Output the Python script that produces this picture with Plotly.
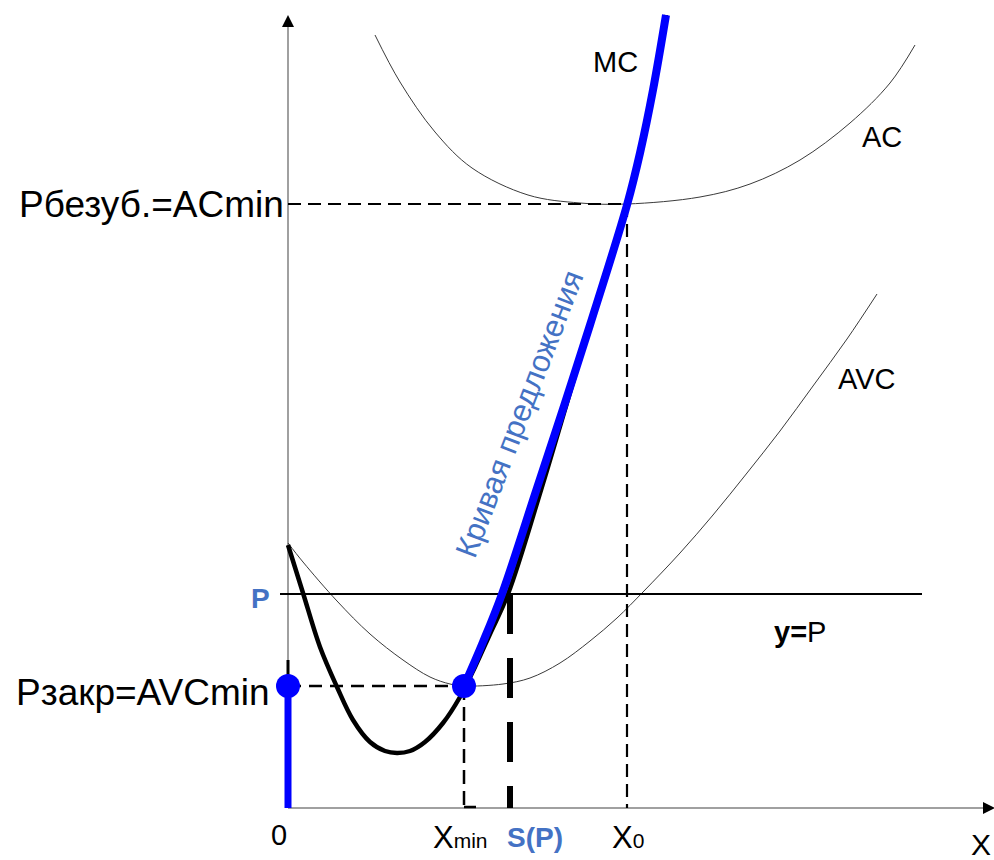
import plotly.graph_objects as go

# ---- key levels (price / quantity) ----
P = 2.14            # market price y=P
P_close = 1.22      # Рзакр = AVCmin
P_break = 6.04      # Рбезуб = ACmin
X_min = 1.76
S_P = 2.22
X0 = 3.39

# ---- curves ----
MC_x = [0.00, 0.15, 0.32, 0.49, 0.65, 0.82, 0.97, 1.09, 1.22, 1.37, 1.55, 1.72, 1.87, 2.02, 2.20, 2.53, 2.78, 3.02, 3.39, 3.52, 3.65, 3.78]
MC_y = [2.63, 2.15, 1.61, 1.21, 0.88, 0.66, 0.57, 0.55, 0.57, 0.66, 0.85, 1.11, 1.41, 1.74, 2.14, 3.18, 4.02, 4.83, 6.03, 6.55, 7.18, 7.93]

SUP_x = [1.76, 1.95, 2.14, 2.49, 2.76, 3.02, 3.39, 3.52, 3.65, 3.78]
SUP_y = [1.22, 1.66, 2.14, 3.20, 4.02, 4.83, 6.03, 6.55, 7.18, 7.93]

AVC_x = [0.00, 0.15, 0.49, 0.82, 1.15, 1.42, 1.62, 1.76, 2.15, 2.42, 2.72, 3.02, 3.29, 3.55, 3.92, 4.25, 4.59, 4.92, 5.25, 5.59, 5.89]
AVC_y = [2.65, 2.46, 2.07, 1.74, 1.48, 1.31, 1.24, 1.22, 1.24, 1.30, 1.45, 1.67, 1.90, 2.16, 2.55, 2.93, 3.35, 3.77, 4.22, 4.69, 5.14]

AC_x = [0.87, 1.12, 1.47, 1.84, 2.40, 2.92, 3.39, 4.12, 4.62, 5.12, 5.62, 6.02, 6.27]
AC_y = [7.73, 7.26, 6.76, 6.40, 6.13, 6.05, 6.04, 6.11, 6.24, 6.48, 6.85, 7.25, 7.63]

PRICE_LINE_X = [-0.08, 6.34]

BLUE = "#0000FF"
TXT_BLUE = "#4472C4"
FONT = "Liberation Sans, Arial, sans-serif"

fig = go.Figure()

def seg(x, y, color="black", width=2, dash="solid", shape="linear"):
    fig.add_trace(go.Scatter(x=x, y=y, mode="lines", hoverinfo="skip", showlegend=False,
                             line=dict(color=color, width=width, dash=dash, shape=shape)))

# axes
seg([0, 0], [0, 7.85], color="#808080", width=1.5)
seg([0, 7.03], [0, 0], color="#808080", width=1.5)

# thin cost curves
seg(AC_x, AC_y, color="#3a3a3a", width=1, shape="spline")
seg(AVC_x, AVC_y, color="#3a3a3a", width=1, shape="spline")

# price line
seg(PRICE_LINE_X, [P, P], color="black", width=2.2)

# dashed reference lines
seg([0, X0], [P_break, P_break], width=2.2, dash="13px,7px")
seg([X0, X0], [P_break, 0], width=2.2, dash="13px,7px")
seg([0, X_min], [P_close, P_close], width=2.5, dash="13px,8px")
seg([X_min, X_min], [P_close, 0], width=2.5, dash="14px,7px")
seg([X_min, X_min + 0.12], [0.01, 0.01], width=2.5)
seg([S_P, S_P], [P, 0], width=6, dash="40px,24px")

# MC curve (black) and supply curve (blue)
seg(MC_x, MC_y, color="black", width=4.5, shape="spline")
seg([0, 0], [P_close, 1.48], color="black", width=3)
seg([0, 0], [0, P_close], color=BLUE, width=7)
seg(SUP_x, SUP_y, color=BLUE, width=8, shape="spline")

# points
fig.add_trace(go.Scatter(x=[0, X_min], y=[P_close, P_close], mode="markers", hoverinfo="skip",
                         showlegend=False, marker=dict(color=BLUE, size=24)))

ann = []
def txt(text, x, y, size=26, color="black", xanchor="center", yanchor="middle", xshift=0, yshift=0, angle=0):
    ann.append(dict(text=text, x=x, y=y, xref="x", yref="y", showarrow=False, xanchor=xanchor,
                    yanchor=yanchor, xshift=xshift, yshift=yshift, textangle=angle,
                    font=dict(family=FONT, size=size, color=color)))

txt("Рбезуб.=ACmin", 0, P_break, size=37, xanchor="right", xshift=-2)
txt("Рзакр=AVCmin", 0, P_close, size=37, xanchor="right", xshift=-16, yshift=-6)
txt("<b>P</b>", 0, P, size=28, color=TXT_BLUE, xanchor="right", xshift=-16, yshift=-4)
txt("0", 0, 0, size=29, xshift=-9, yshift=-27)
txt("X<span style='font-size:21px'>min</span>", X_min, 0, size=31, xshift=-4, yshift=-29)
txt("<b>S(P)</b>", S_P, 0, size=28, color=TXT_BLUE, xshift=25, yshift=-29)
txt("X<span style='font-size:21px'>0</span>", X0, 0, size=31, xshift=1, yshift=-29)
txt("X", 6.93, 0, size=30, yshift=-36)
txt("MC", 3.27, 7.46, size=29)
txt("AC", 5.94, 6.71, size=29)
txt("AVC", 5.78, 4.29, size=29)
txt("<b>y=</b>P", 5.12, 1.76, size=29)
txt("Кривая предложения", 2.31, 3.94, size=31, color=TXT_BLUE, angle=-69)

# arrowheads
ann.append(dict(x=0, y=7.93, ax=0, ay=7.80, xref="x", yref="y", axref="x", ayref="y", text="",
                showarrow=True, arrowhead=2, arrowsize=1.6, arrowwidth=1.5, arrowcolor="black"))
ann.append(dict(x=7.07, y=0, ax=6.95, ay=0, xref="x", yref="y", axref="x", ayref="y", text="",
                showarrow=True, arrowhead=2, arrowsize=1.6, arrowwidth=1.5, arrowcolor="black"))

fig.update_layout(
    width=994, height=860,
    margin=dict(l=0, r=0, t=0, b=0),
    paper_bgcolor="white", plot_bgcolor="white",
    xaxis=dict(range=[-2.88, 7.06], visible=False, fixedrange=True),
    yaxis=dict(range=[-0.52, 8.08], visible=False, fixedrange=True),
    annotations=ann,
)

fig.write_html("out.html", config={"displayModeBar": False},
               post_script="document.body.style.margin='0';document.body.style.overflow='hidden';")
